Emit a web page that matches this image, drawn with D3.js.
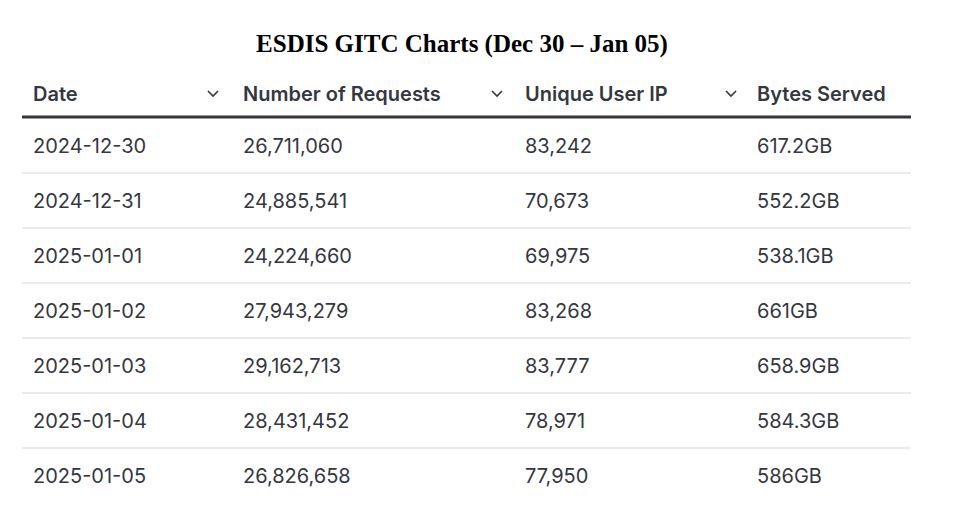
<!DOCTYPE html>
<html><head><meta charset="utf-8">
<script src="https://cdn.jsdelivr.net/npm/d3@7"></script>
<style>body{margin:0;background:#fff}</style>
</head><body>
<svg id="c" width="955" height="532"></svg>
<script>
const title = "ESDIS GITC Charts (Dec 30 – Jan 05)";
const columns = ["Date","Number of Requests","Unique User IP","Bytes Served"];
const dates = ["2024-12-30","2024-12-31","2025-01-01","2025-01-02","2025-01-03","2025-01-04","2025-01-05"];
const requests = [26711060,24885541,24224660,27943279,29162713,28431452,26826658];
const uniqueIPs = [83242,70673,69975,83268,83777,78971,77950];
const bytesServed = ["617.2GB","552.2GB","538.1GB","661GB","658.9GB","584.3GB","586GB"];

const svg = d3.select("#c");
const fmt = d3.format(",");
const colX = d3.scaleOrdinal().domain(columns).range([33,243,525,757]);
const chevX = [213,497,731];
const y = d3.scaleBand().domain(dates).range([118,503]);

svg.append("text").attr("x",462).attr("y",52).attr("text-anchor","middle")
  .attr("font-family","Liberation Serif, Times New Roman, serif").attr("font-weight","bold")
  .attr("font-size",25).attr("fill","#000").text(title);

svg.selectAll(".h").data(columns).join("text")
  .attr("x",d=>colX(d)).attr("y",101)
  .attr("font-family","Inter, sans-serif").attr("font-weight",600).attr("font-size",20)
  .attr("fill","#343741").text(d=>d);

svg.selectAll(".chev").data(chevX).join("path")
  .attr("d",x=>`M${x-5},${91}L${x},${96}L${x+5},${91}`)
  .attr("fill","none").attr("stroke","#343741").attr("stroke-width",1.6);

svg.append("line").attr("x1",22).attr("x2",911).attr("y1",117).attr("y2",117)
  .attr("stroke","#343741").attr("stroke-width",3);

const rows = dates.map((d,i)=>[d, fmt(requests[i]), fmt(uniqueIPs[i]), bytesServed[i]]);
const g = svg.selectAll(".row").data(rows).join("g").attr("transform",(r,i)=>`translate(0,${y(dates[i])})`);
g.filter((r,i)=>i<dates.length-1).append("line").attr("x1",22).attr("x2",911)
  .attr("y1",y.bandwidth()).attr("y2",y.bandwidth()).attr("stroke","#e3e5ea").attr("stroke-width",1.5);
g.selectAll("text").data(r=>r.map((v,j)=>({v,c:columns[j]}))).join("text")
  .attr("x",d=>colX(d.c)).attr("y",y.bandwidth()/2+7)
  .attr("font-family","Inter, sans-serif").attr("font-size",20).attr("fill","#343741")
  .text(d=>d.v);
</script>
</body></html>
